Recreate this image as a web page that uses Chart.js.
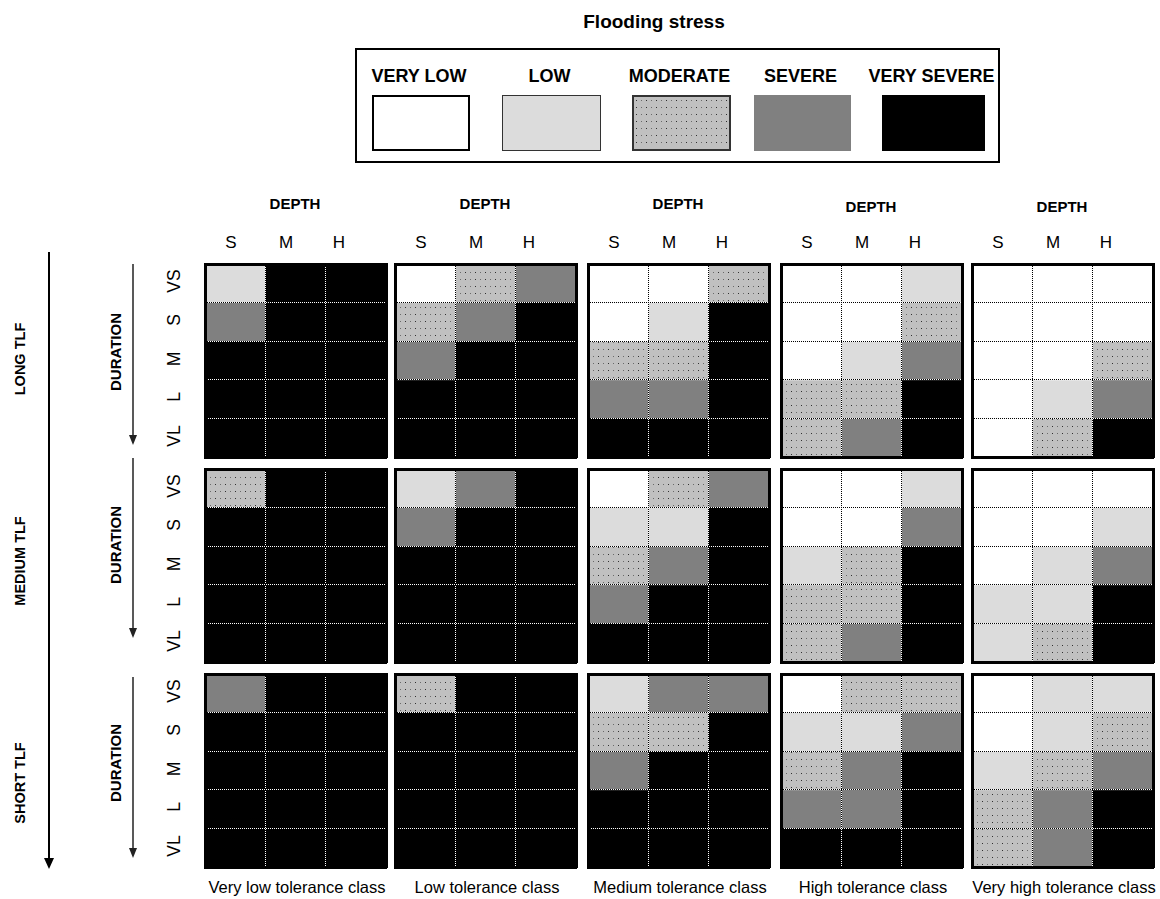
<!DOCTYPE html>
<html>
<head>
<meta charset="utf-8">
<script src="https://cdn.jsdelivr.net/npm/chart.js@4.4.1/dist/chart.umd.min.js"></script>
<style>
  body { margin: 0; background: #fff; width: 1160px; height: 899px; position: relative; overflow: hidden;
         font-family: Arial, "Liberation Sans", sans-serif; color: #000; }
  .t { position: absolute; white-space: nowrap; transform: translate(-50%, -50%); line-height: 1; }
  .rot { transform: translate(-50%, -50%) rotate(-90deg); }
  canvas { position: absolute; }
  .sw { position: absolute; box-sizing: border-box; }
</style>
</head>
<body>
<svg width="1160" height="899" style="position:absolute;left:0;top:0">
  <line x1="49" y1="252" x2="49" y2="860" stroke="#000" stroke-width="2"/>
  <polygon points="44,858 54,858 49,869" fill="#000"/>
  <line x1="133" y1="264" x2="133" y2="437" stroke="#222" stroke-width="1.5"/>
  <polygon points="129,435 137,435 133,445" fill="#222"/>
  <line x1="133" y1="458" x2="133" y2="630" stroke="#222" stroke-width="1.5"/>
  <polygon points="129,628 137,628 133,638" fill="#222"/>
  <line x1="133" y1="677" x2="133" y2="850" stroke="#222" stroke-width="1.5"/>
  <polygon points="129,848 137,848 133,858" fill="#222"/>
</svg>
<script>
// labels
const depthLabels = ['S', 'M', 'H'];
const durationLabels = ['VS', 'S', 'M', 'L', 'VL'];
const tlfLabels = ['LONG TLF', 'MEDIUM TLF', 'SHORT TLF'];
const classLabels = ['Very low tolerance class', 'Low tolerance class', 'Medium tolerance class',
                     'High tolerance class', 'Very high tolerance class'];
const stressLabels = ['VERY LOW', 'LOW', 'MODERATE', 'SEVERE', 'VERY SEVERE'];

// stress level per cell (0 very low .. 4 very severe), rows VS..VL, columns S, M, H
const longVeryLow  = [[1,4,4],[3,4,4],[4,4,4],[4,4,4],[4,4,4]];
const longLow      = [[0,2,3],[2,3,4],[3,4,4],[4,4,4],[4,4,4]];
const longMedium   = [[0,0,2],[0,1,4],[2,2,4],[3,3,4],[4,4,4]];
const longHigh     = [[0,0,1],[0,0,2],[0,1,3],[2,2,4],[2,3,4]];
const longVeryHigh = [[0,0,0],[0,0,0],[0,0,2],[0,1,3],[0,2,4]];

const mediumVeryLow  = [[2,4,4],[4,4,4],[4,4,4],[4,4,4],[4,4,4]];
const mediumLow      = [[1,3,4],[3,4,4],[4,4,4],[4,4,4],[4,4,4]];
const mediumMedium   = [[0,2,3],[1,1,4],[2,3,4],[3,4,4],[4,4,4]];
const mediumHigh     = [[0,0,1],[0,0,3],[1,2,4],[2,2,4],[2,3,4]];
const mediumVeryHigh = [[0,0,0],[0,0,1],[0,1,3],[1,1,4],[1,2,4]];

const shortVeryLow  = [[3,4,4],[4,4,4],[4,4,4],[4,4,4],[4,4,4]];
const shortLow      = [[2,4,4],[4,4,4],[4,4,4],[4,4,4],[4,4,4]];
const shortMedium   = [[1,3,3],[2,2,4],[3,4,4],[4,4,4],[4,4,4]];
const shortHigh     = [[0,2,2],[1,1,3],[2,3,4],[3,3,4],[4,4,4]];
const shortVeryHigh = [[0,1,1],[0,1,2],[1,2,3],[2,3,4],[2,3,4]];

const grids = [
  [longVeryLow, longLow, longMedium, longHigh, longVeryHigh],
  [mediumVeryLow, mediumLow, mediumMedium, mediumHigh, mediumVeryHigh],
  [shortVeryLow, shortLow, shortMedium, shortHigh, shortVeryHigh]
];

// layout
const panelLeft = [205, 395, 588, 781, 972];
const panelTop = [264, 469, 674];
const panelW = 181, panelH = 193;

// dotted fill for "moderate"
const tile = document.createElement('canvas');
tile.width = 10; tile.height = 7;
const tctx = tile.getContext('2d');
tctx.fillStyle = '#c0c0c0'; tctx.fillRect(0, 0, 10, 7);
tctx.fillStyle = '#303030'; tctx.fillRect(2, 3, 1, 1);
tctx.fillStyle = '#6a6a6a'; tctx.fillRect(7, 3, 1, 1);
const dotted = tctx.createPattern(tile, 'repeat');

const fills = ['#ffffff', '#dcdcdc', dotted, '#808080', '#000000'];

function text(str, x, y, size, bold, rotate) {
  const d = document.createElement('div');
  d.className = 't' + (rotate ? ' rot' : '');
  d.textContent = str;
  d.style.left = x + 'px';
  d.style.top = y + 'px';
  d.style.fontSize = size + 'px';
  if (bold) d.style.fontWeight = 'bold';
  document.body.appendChild(d);
}

// title + legend
text('Flooding stress', 654, 21, 19, true);
const box = document.createElement('div');
box.className = 'sw';
Object.assign(box.style, { left: '355px', top: '48px', width: '645px', height: '115px', border: '2px solid #000' });
document.body.appendChild(box);

const swLeft = [372, 502, 632, 754, 882];
const swWidth = [98, 99, 99, 97, 103];
const swBorder = ['2px solid #000', '1px solid #333', '2px solid #333', 'none', 'none'];
stressLabels.forEach((s, i) => {
  text(s, swLeft[i] + swWidth[i] / 2 - 2, 76, 18, true);
  const sw = document.createElement('div');
  sw.className = 'sw';
  Object.assign(sw.style, {
    left: swLeft[i] + 'px', top: '95px', width: swWidth[i] + 'px', height: '56px',
    border: swBorder[i],
    background: i === 2 ? 'url(' + tile.toDataURL() + ')' : fills[i]
  });
  document.body.appendChild(sw);
});

// axis labels
panelLeft.forEach((x, j) => {
  text('DEPTH', x + 90, j < 3 ? 203 : 206, 15, true);
  const off = [26, 81, 134];
  depthLabels.forEach((d, k) => text(d, x + off[k], 242, 17, false));
  text(classLabels[j], x + 92, 887, 16.5, false);
});
const tlfY = [359, 561, 783];
const durY = [352, 545, 763];
panelTop.forEach((y, i) => {
  text(tlfLabels[i], 20, tlfY[i], 14.5, true, true);
  text('DURATION', 115, durY[i], 15, true, true);
  durationLabels.forEach((d, r) => text(d, 175, y + (r + 0.5) * panelH / 5 - 2, 17.5, false, true));
});

// one stacked bar chart per panel: each stack is a depth class, each segment a duration class
function axis(type, position, dashColor, dashOffset) {
  const a = {
    type, position, stacked: true,
    ticks: { display: false },
    grid: { color: dashColor, drawTicks: false, z: 1, offset: type === 'category' },
    border: { color: '#000', width: 3, dash: [1, 1], dashOffset, z: 2 }
  };
  if (type === 'category') {
    a.offset = true;
    a.labels = depthLabels;
  } else {
    a.min = 0;
    a.max = durationLabels.length;
    a.reverse = true;
    a.ticks.stepSize = 1;
  }
  return a;
}

grids.forEach((row, i) => row.forEach((grid, j) => {
  const c = document.createElement('canvas');
  c.width = panelW + 4;
  c.height = panelH + 4;
  c.style.left = (panelLeft[j] - 2) + 'px';
  c.style.top = (panelTop[i] - 2) + 'px';
  document.body.appendChild(c);

  new Chart(c, {
    type: 'bar',
    data: {
      labels: depthLabels,
      datasets: durationLabels.map((d, r) => ({
        label: d,
        data: depthLabels.map(() => 1),
        backgroundColor: grid[r].map(level => fills[level]),
        borderWidth: 0,
        barPercentage: 1,
        categoryPercentage: 1
      }))
    },
    options: {
      responsive: false,
      animation: false,
      devicePixelRatio: 1,
      events: [],
      layout: { padding: 2 },
      plugins: { legend: { display: false }, tooltip: { enabled: false } },
      scales: {
        x: axis('category', 'bottom', '#000', 0),
        x2: axis('category', 'top', '#fff', 1),
        y: axis('linear', 'left', '#000', 0),
        y2: axis('linear', 'right', '#fff', 1)
      }
    }
  });
}));
</script>
</body>
</html>
